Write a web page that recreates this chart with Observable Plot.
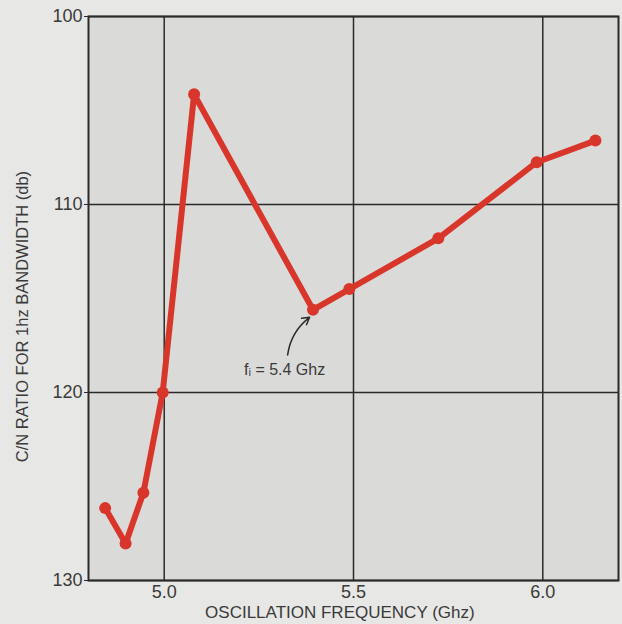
<!DOCTYPE html>
<html>
<head>
<meta charset="utf-8">
<script src="https://cdn.jsdelivr.net/npm/d3@7"></script>
<script src="https://cdn.jsdelivr.net/npm/@observablehq/plot@0.6"></script>
<style>
  html, body { margin: 0; padding: 0; background: #e7e7e5; }
  #chart { width: 622px; height: 624px; }
</style>
</head>
<body>
<div id="chart"></div>
<script>
// Data
const frequency = [4.844, 4.898, 4.945, 4.996, 5.079, 5.393, 5.489, 5.724, 5.984, 6.139];
const cnRatio   = [126.15, 128.03, 125.33, 120.0, 104.14, 115.6, 114.5, 111.8, 107.75, 106.6];
const xTicks = [5.0, 5.5, 6.0];
const yTicks = [100, 110, 120, 130];
const xTitle = ["OSCILLATION FREQUENCY (Ghz)"];
const yTitle = ["C/N RATIO FOR 1hz BANDWIDTH (db)"];
const annotationText = ["fᵢ = 5.4 Ghz"];
const annotationPos = {x: 5.318, y: 118.8};
const arrowFrom = {x: 5.326, y: 118.0};
const arrowTo = {x: 5.384, y: 116.0};
const xTitleAt = 5.464;
const yTitleAt = 115.96;

const data = frequency.map((f, i) => ({f, cn: cnRatio[i]}));
const red = "#d8352b";
const ink = "#2a2a2a";
const textInk = "#3a3a3a";

const chart = Plot.plot({
  width: 622,
  height: 624,
  marginLeft: 88,
  marginRight: 4,
  marginTop: 16,
  marginBottom: 44,
  style: {background: "#e7e7e5", fontFamily: "'Liberation Sans', Arial, sans-serif", fontSize: "18px", color: textInk},
  x: {domain: [4.8, 6.2], label: null},
  y: {domain: [100, 130], reverse: true, label: null},
  marks: [
    Plot.frame({fill: "#dadad8", stroke: null}),
    Plot.gridX(xTicks, {stroke: ink, strokeOpacity: 1, strokeWidth: 1.5}),
    Plot.gridY(yTicks, {stroke: ink, strokeOpacity: 1, strokeWidth: 1.5}),
    Plot.frame({stroke: ink, strokeWidth: 2}),
    Plot.axisX(xTicks, {tickSize: 0, tickPadding: 5, tickFormat: d3.format(".1f"), fontSize: 18, fill: textInk, label: null}),
    Plot.axisY(yTicks, {tickSize: 4, tickPadding: 2, fontSize: 18, fill: textInk, stroke: ink, label: null}),
    Plot.text(xTitle, {x: () => xTitleAt, frameAnchor: "bottom", dy: 32, text: d => d, fontSize: 17, fill: textInk, lineAnchor: "middle", textAnchor: "middle"}),
    Plot.text(yTitle, {y: () => yTitleAt, frameAnchor: "left", dx: -66, rotate: -90, text: d => d, fontSize: 16.5, fill: textInk, textAnchor: "middle"}),
    Plot.line(data, {x: "f", y: "cn", stroke: red, strokeWidth: 6, strokeLinejoin: "round", strokeLinecap: "round"}),
    Plot.dot(data, {x: "f", y: "cn", r: 6, fill: red, stroke: null}),
    Plot.arrow([0], {x1: () => arrowFrom.x, y1: () => arrowFrom.y, x2: () => arrowTo.x, y2: () => arrowTo.y, bend: true, stroke: ink, strokeWidth: 1.5, headLength: 8}),
    Plot.text(annotationText, {x: () => annotationPos.x, y: () => annotationPos.y, text: d => d, fontSize: 16, fill: textInk})
  ]
});
document.getElementById("chart").append(chart);
</script>
</body>
</html>
